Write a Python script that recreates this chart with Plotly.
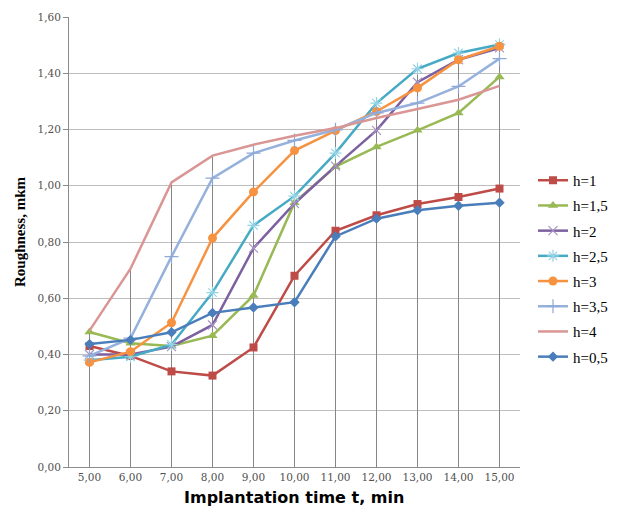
import plotly.graph_objects as go

# ---- data ----
t_values = [5, 6, 7, 8, 9, 10, 11, 12, 13, 14, 15]
t_labels = ["5,00", "6,00", "7,00", "8,00", "9,00", "10,00", "11,00", "12,00", "13,00", "14,00", "15,00"]

h_1 = [0.43, 0.395, 0.34, 0.325, 0.425, 0.68, 0.84, 0.895, 0.935, 0.96, 0.99]
h_1_5 = [0.48, 0.44, 0.43, 0.467, 0.61, 0.94, 1.068, 1.138, 1.197, 1.259, 1.387]
h_2 = [0.40, 0.40, 0.428, 0.505, 0.778, 0.937, 1.07, 1.197, 1.368, 1.448, 1.49]
h_2_5 = [0.38, 0.392, 0.435, 0.62, 0.859, 0.963, 1.116, 1.294, 1.416, 1.472, 1.502]
h_3 = [0.372, 0.41, 0.513, 0.814, 0.978, 1.125, 1.196, 1.264, 1.348, 1.448, 1.496]
h_3_5 = [0.395, 0.458, 0.748, 1.027, 1.116, 1.161, 1.199, 1.259, 1.294, 1.353, 1.452]
h_4 = [0.485, 0.705, 1.012, 1.107, 1.146, 1.178, 1.205, 1.241, 1.273, 1.306, 1.355]
h_0_5 = [0.437, 0.452, 0.479, 0.548, 0.567, 0.586, 0.82, 0.883, 0.913, 0.929, 0.94]

series_names = ["h=1", "h=1,5", "h=2", "h=2,5", "h=3", "h=3,5", "h=4", "h=0,5"]
series_values = [h_1, h_1_5, h_2, h_2_5, h_3, h_3_5, h_4, h_0_5]

# ---- styles ----
styles = [
    dict(color="#BE4B48", symbol="square", size=8, mline=None),
    dict(color="#98B954", symbol="triangle-up", size=9, mline=None),
    dict(color="#7D60A0", symbol="x-thin", size=9, mline="#A795C4"),
    dict(color="#46AAC5", symbol="asterisk", size=10, mline="#93D3E4"),
    dict(color="#F69240", symbol="circle", size=9, mline=None),
    dict(color="#95B1DC", symbol="cross-thin", size=10, mline="#8FA8D8"),
    dict(color="#D99694", symbol=None, size=0, mline=None),
    dict(color="#4A7EBB", symbol="diamond", size=8, mline=None),
]

SERIF = "Times New Roman, Liberation Serif, serif"
TICKFONT = dict(family="DejaVu Serif", size=10.5, color="#505050")

fig = go.Figure()

# drop lines from the highest value at each time down to zero
max_vals = [max(vals[i] for vals in series_values) for i in range(len(t_values))]
dx, dy = [], []
for x, m in zip(t_values, max_vals):
    dx += [x, x, None]
    dy += [0, m, None]
fig.add_trace(go.Scatter(x=dx, y=dy, mode="lines", line=dict(color="#868686", width=1),
                         hoverinfo="skip", showlegend=False))

for name, vals, st in zip(series_names, series_values, styles):
    if st["symbol"] is None:
        fig.add_trace(go.Scatter(x=t_values, y=vals, name=name, mode="lines",
                                 legendgroup=name,
                                 line=dict(color=st["color"], width=2.5)))
    else:
        marker = dict(symbol=st["symbol"], size=st["size"], color=st["color"])
        if st["mline"] is not None:
            marker["line"] = dict(color=st["mline"], width=1.2)
        fig.add_trace(go.Scatter(x=t_values, y=vals, name=name, mode="lines+markers",
                                 legendgroup=name,
                                 line=dict(color=st["color"], width=2.5), marker=marker))

L, R, T, B = 69, 109, 17, 49
W, H = 629, 516
pw, ph = W - L - R, H - T - B

fig.update_layout(
    width=W, height=H,
    margin=dict(l=L, r=R, t=T, b=B),
    paper_bgcolor="white", plot_bgcolor="white",
    separators=", ",
    showlegend=True,
    legend=dict(
        x=(533 - L) / pw, xanchor="left",
        y=(H - B - 164) / ph, yanchor="top",
        font=dict(family=SERIF, size=15, color="#000000"),
        tracegroupgap=2.7,
        itemwidth=30,
        bgcolor="rgba(0,0,0,0)",
    ),
    xaxis=dict(
        range=[4.5, 15.5],
        tickmode="array", tickvals=t_values, ticktext=t_labels,
        showgrid=False, zeroline=False,
        showline=True, linecolor="#8C8C8C", linewidth=1,
        ticks="", tickfont=TICKFONT,
        fixedrange=True,
    ),
    yaxis=dict(
        range=[0, 1.6], dtick=0.2, tick0=0, tickformat=".2f",
        showgrid=True, gridcolor="#BEBEBE", gridwidth=1,
        zeroline=False,
        showline=True, linecolor="#8C8C8C", linewidth=1,
        ticks="outside", ticklen=5, tickcolor="#8C8C8C",
        tickfont=TICKFONT,
        fixedrange=True,
    ),
    annotations=[
        dict(text="<b>Implantation time t, min</b>", xref="paper", yref="paper",
             x=(294 - L) / pw, y=(H - B - 497) / ph, xanchor="center", yanchor="middle",
             showarrow=False, font=dict(family="DejaVu Sans", size=16, color="#000000")),
        dict(text="<b>Roughness, mkm</b>", xref="paper", yref="paper",
             x=(20 - L) / pw, y=(H - B - 232) / ph, xanchor="center", yanchor="middle",
             textangle=-90, showarrow=False,
             font=dict(family=SERIF, size=15, color="#000000")),
    ],
)

fig.write_html("out.html", config={"displayModeBar": False},
               post_script="document.body.style.margin='0';")
